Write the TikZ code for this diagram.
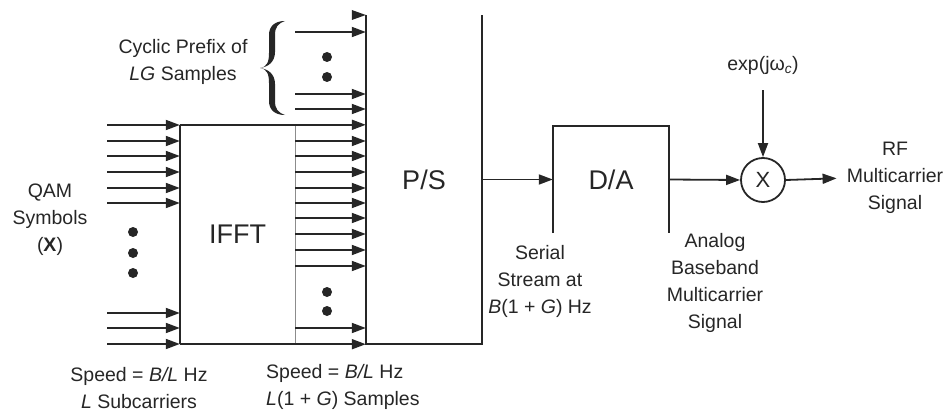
\documentclass[tikz,border=0pt]{standalone}
\usepackage{fontspec}
\setmainfont{Liberation Sans}
\usetikzlibrary{arrows.meta,calc}
\begin{document}
\begin{tikzpicture}[x=1pt,y=-1pt,
  ln/.style={line width=1.8pt, draw=black!85},
  arr/.style={ln,-{Triangle[length=14pt,width=10pt]}},
  lbl/.style={font=\fontsize{19.5}{27}\selectfont, align=center, inner sep=0pt, text=black!85},
  blockbox/.style={draw=none, inner sep=0pt, font=\fontsize{27}{30}\selectfont, text=black!85},
  bigdot/.style={circle, fill=black!85, minimum size=10pt, inner sep=0pt}
]
\useasboundingbox (0,0) rectangle (948,412);

% blocks
\node[blockbox, minimum width=115pt, minimum height=219pt] (ifft) at (237.5,234.5) {IFFT};
\node[blockbox, minimum width=116pt, minimum height=329pt] (ps) at (424,179.5) {P/S};
\node[blockbox, minimum width=116pt, minimum height=107pt] (da) at (611,179.5) {D/A};
\node[circle, ln, draw, minimum size=44pt, inner sep=0pt, font=\fontsize{22}{24}\selectfont, text=black!85] (mix) at (763,180) {X};

% labels
\node[lbl] (cp) at (183,61.5) {Cyclic Prefix of\\\textit{LG} Samples};
\node[lbl] (qam) at (50,220) {QAM\\Symbols\\(\textbf{X})};
\node[lbl] (sp1) at (139,388) {Speed = \textit{B/L} Hz\\\textit{L} Subcarriers};
\node[lbl, align=left, anchor=west] (sp2) at (266,387) {Speed = \textit{B/L} Hz\\\textit{L}(1 + \textit{G}) Samples};
\node[lbl] (ser) at (540,281) {Serial\\Stream at\\\textit{B}(1 + \textit{G}) Hz};
\node[lbl] (ana) at (715,283) {Analog\\Baseband\\Multicarrier\\Signal};
\node[lbl] (rf) at (895,178) {RF\\Multicarrier\\Signal};
\node[lbl] (exp) at (763,65) {exp(jω\textsubscript{\textit{c}})};

% block outlines
\draw[ln] (ifft.north west) -- (ifft.south west);
\draw[line width=1.2pt, draw=black!45] (ifft.north east) -- (ifft.south east);
\draw[ln] (ps.north west) -- (ps.south west) -- (ps.south east) -- (ps.north east);
\draw[ln] (da.south west) -- (da.north west) -- (da.north east) -- (da.south east);

% inputs to IFFT
\foreach \y in {125,141,156,172,188,203,313,328,344}
  \draw[arr] (107,\y) -- (ifft.west |- 0,\y);
\foreach \y in {232,253,273}
  \node[bigdot] at (133,\y) {};

% IFFT outputs to P/S
\draw[arr] (ifft.north west) -- (ifft.north west -| ps.west);
\draw[arr] (ifft.south west) -- (ifft.south west -| ps.west);
\foreach \y in {141,156,172,188,203,218,234,250,266,328}
  \draw[arr] (ifft.east |- 0,\y) -- (ps.west |- 0,\y);
\foreach \y in {292,311}
  \node[bigdot] at (327,\y) {};

% cyclic prefix
\foreach \y in {32,94,109}
  \draw[arr] (ifft.east |- 0,\y) -- (ps.west |- 0,\y);
\foreach \y in {57,77}
  \node[bigdot] at (327,\y) {};
\fill[black!85] (ps.west |- 0,15) -- ++(-14,-5) -- ++(0,10) -- cycle;

% curly brace (tip at left)
\begin{scope}[shift={(260,68)}]
  \foreach \s in {1,-1}{
    \fill[black!85, yscale=\s]
      (0,0) .. controls (7,-1) and (9,-6) .. (9,-15)
      -- (9,-33) .. controls (9,-42) and (15,-47) .. (25,-47)
      .. controls (18,-44.5) and (15,-41) .. (15,-33)
      -- (15,-16) .. controls (15,-6) and (8,-1) .. (0,0) -- cycle;
  }
\end{scope}

% chain
\draw[arr] (ps.east) -- (da.west);
\draw[arr] (da.east) -- (mix.west);
\draw[arr, shorten <=16pt] (exp.south) -- (mix.north);
\draw[arr, shorten >=10pt] (mix.east) -- (rf.west);
\end{tikzpicture}
\end{document}
